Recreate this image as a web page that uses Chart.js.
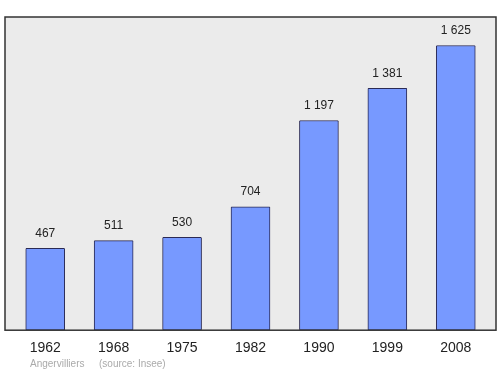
<!DOCTYPE html>
<html>
<head>
<meta charset="utf-8">
<script src="https://cdn.jsdelivr.net/npm/chart.js@4"></script>
<style>
  html, body { margin: 0; padding: 0; background: #ffffff; }
  #wrap { width: 500px; height: 374px; position: relative; }
</style>
</head>
<body>
<div id="wrap"><canvas id="chart" width="500" height="374"></canvas></div>
<script>
// Population of Angervilliers by census year
const years = ["1962", "1968", "1975", "1982", "1990", "1999", "2008"];
const population = [467, 511, 530, 704, 1197, 1381, 1625];
const townName = "Angervilliers";
const sourceNote = "(source: Insee)";

const fmt = v => String(v).replace(/\B(?=(\d{3})+(?!\d))/g, " ");

// gray plot background with a dark frame, a bit wider than the chart area
const framePlugin = {
    id: "frame",
    beforeDatasetsDraw(chart) {
        const { ctx, chartArea: a } = chart;
        ctx.save();
        ctx.fillStyle = "#ebebeb";
        ctx.fillRect(a.left - 6, a.top, a.right - a.left + 12, a.bottom - a.top);
        ctx.restore();
    },
    afterDatasetsDraw(chart) {
        const { ctx, chartArea: a } = chart;
        ctx.save();
        ctx.strokeStyle = "#333333";
        ctx.lineWidth = 1.5;
        ctx.strokeRect(a.left - 6, a.top, a.right - a.left + 12, a.bottom - a.top);

        // value labels above each bar
        ctx.fillStyle = "#222222";
        ctx.font = "12px 'Liberation Sans', Arial, sans-serif";
        ctx.textAlign = "center";
        ctx.textBaseline = "middle";
        chart.getDatasetMeta(0).data.forEach((bar, i) => {
            ctx.fillText(fmt(population[i]), bar.x, bar.y - 15);
        });

        // source line
        ctx.fillStyle = "#aaaaaa";
        ctx.font = "10px 'Liberation Sans', Arial, sans-serif";
        ctx.textAlign = "left";
        ctx.fillText(townName, 30, 364);
        ctx.fillText(sourceNote, 99, 364);
        ctx.restore();
    }
};

new Chart(document.getElementById("chart"), {
    type: "bar",
    data: {
        labels: years,
        datasets: [{
            data: population,
            backgroundColor: "#7799ff",
            borderColor: "#2a2a55",
            borderWidth: 1,
            borderRadius: 1,
            borderSkipped: false,
            barThickness: 39
        }]
    },
    options: {
        responsive: false,
        animation: false,
        layout: { padding: { left: 11, right: 10, top: 17, bottom: 7 } },
        plugins: { legend: { display: false }, tooltip: { enabled: false } },
        scales: {
            x: {
                grid: { display: false, drawTicks: false, tickLength: 0 },
                border: { display: false },
                ticks: {
                    color: "#222222",
                    padding: 10,
                    font: { family: "'Liberation Sans', Arial, sans-serif", size: 14 }
                }
            },
            y: {
                display: false,
                min: 0,
                max: 1787.5
            }
        }
    },
    plugins: [framePlugin]
});
</script>
</body>
</html>
